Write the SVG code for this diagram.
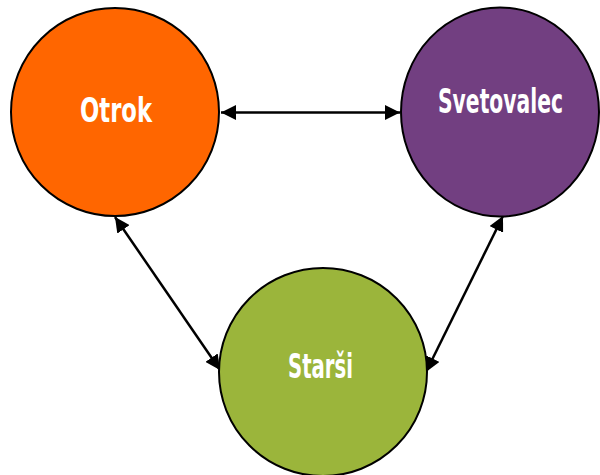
<svg xmlns="http://www.w3.org/2000/svg" width="600" height="475" viewBox="0 0 600 475">
<defs>
<style>
.node circle,.node ellipse{stroke:#000;stroke-width:2}
.lbl{font-family:"Liberation Sans Narrow","DejaVu Sans Condensed","Liberation Sans",sans-serif;font-weight:bold;font-size:33px;fill:#fff;text-anchor:middle}
.conn line{stroke:#000;stroke-width:2.5;marker-start:url(#ah);marker-end:url(#ah)}
</style>
<marker id="ah" markerUnits="userSpaceOnUse" markerWidth="16" markerHeight="15" refX="15" refY="7.5" orient="auto-start-reverse" viewBox="0 0 16 15">
<path d="M0,0 L15,7.5 L0,15 z" fill="#000"/>
</marker>
</defs>
<rect width="600" height="475" fill="#fff"/>
<g id="connectors" class="conn">
<line x1="221" y1="112.5" x2="400" y2="112.5"/>
<line x1="115" y1="217" x2="220" y2="370"/>
<line x1="503" y1="216" x2="426" y2="372"/>
</g>
<g id="otrok" class="node">
<circle cx="115" cy="112" r="104" fill="#FF6600"/>
<text class="lbl" x="116" y="122" textLength="72" lengthAdjust="spacingAndGlyphs">Otrok</text>
</g>
<g id="svetovalec" class="node">
<ellipse cx="500" cy="112" rx="99" ry="104.5" fill="#723F81"/>
<text class="lbl" x="500.5" y="113" textLength="125" lengthAdjust="spacingAndGlyphs">Svetovalec</text>
</g>
<g id="starsi" class="node">
<circle cx="323" cy="372" r="104" fill="#9BB53B"/>
<text class="lbl" x="320.5" y="378" textLength="65" lengthAdjust="spacingAndGlyphs">Starši</text>
</g>
</svg>
